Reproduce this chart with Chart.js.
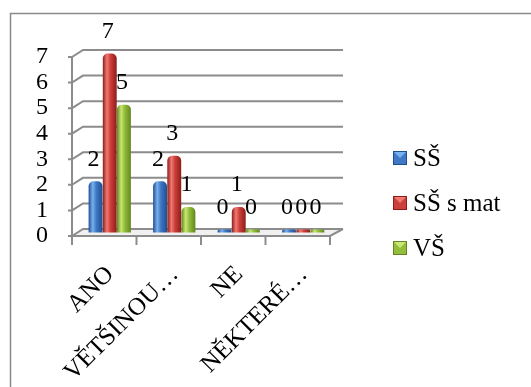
<!DOCTYPE html>
<html>
<head>
<meta charset="utf-8">
<script src="https://cdn.jsdelivr.net/npm/chart.js@4/dist/chart.umd.min.js"></script>
<style>
  html, body { margin: 0; padding: 0; background: #fff; }
  canvas { display: block; }
</style>
</head>
<body>
<canvas id="chart" width="531" height="387"></canvas>
<script>
// data
const categories = ["ANO", "VĚTŠINOU…", "NE", "NĚKTERÉ…"];
const seriesNames = ["SŠ", "SŠ s mat", "VŠ"];
const valuesSS = [2, 2, 0, 0];
const valuesSSmat = [7, 3, 1, 0];
const valuesVS = [5, 1, 0, 0];
const yMin = 0, yMax = 7, yStep = 1;

const FONT = '"Liberation Serif", "Times New Roman", serif';
const DEPTH_X = 11, DEPTH_Y = 7;   // 3D wall offset
const CAT_PCT = 0.66, BAR_PCT = 0.98;

// base / light / dark shades per series
const palettes = [
    { base: "#3f78c4", light: "#78b0f0", dark: "#1f4f90" },
    { base: "#cc3f3a", light: "#f07a72", dark: "#8c1d1a" },
    { base: "#94bd3c", light: "#c6e874", dark: "#62861e" }
];

// horizontal "cylinder" shading, worked out from the x scale
function barFill(c) {
    const chart = c.chart;
    const x = chart.scales.x;
    const p = palettes[c.datasetIndex];
    if (!x || !chart.chartArea) return p.base;
    const catW = (chart.chartArea.right - chart.chartArea.left) / categories.length;
    const slot = catW * CAT_PCT / seriesNames.length;
    const cx = x.getPixelForValue(c.dataIndex) - catW * CAT_PCT / 2 + slot * (c.datasetIndex + 0.5);
    const half = slot * BAR_PCT / 2;
    const g = chart.ctx.createLinearGradient(cx - half, 0, cx + half, 0);
    g.addColorStop(0, p.dark);
    g.addColorStop(0.3, p.light);
    g.addColorStop(0.55, p.base);
    g.addColorStop(1, p.dark);
    return g;
}

/**
 * 3D walls, floor, frame, labels, legend
 */
const wallPlugin = {
    id: "walls",
    beforeDraw(chart) {
        const ctx = chart.ctx;
        ctx.save();
        ctx.fillStyle = "#fff";
        ctx.fillRect(0, 0, chart.width, chart.height);
        ctx.strokeStyle = "#8a8a8a";
        ctx.lineWidth = 1.5;
        ctx.strokeRect(10.5, 13.5, 700, 600);
        ctx.restore();
    },
    beforeDatasetsDraw(chart) {
        const ctx = chart.ctx;
        const y = chart.scales.y;
        const left = chart.chartArea.left, right = chart.chartArea.right;
        const bottom = y.getPixelForValue(yMin);
        ctx.save();
        // floor
        ctx.fillStyle = "#f0f0f0";
        ctx.beginPath();
        ctx.moveTo(left, bottom);
        ctx.lineTo(left + DEPTH_X, bottom - DEPTH_Y);
        ctx.lineTo(right + DEPTH_X + 2, bottom - DEPTH_Y);
        ctx.lineTo(right, bottom);
        ctx.closePath();
        ctx.fill();

        ctx.strokeStyle = "#8c8c8c";
        ctx.lineWidth = 2;
        for (let v = yMin; v <= yMax; v += yStep) {
            const py = y.getPixelForValue(v);
            ctx.beginPath();
            ctx.moveTo(left - 4, py);
            ctx.lineTo(left, py);
            ctx.lineTo(left + DEPTH_X, py - DEPTH_Y);
            ctx.lineTo(right + DEPTH_X + 2, py - DEPTH_Y);
            ctx.stroke();
        }
        // front axis
        ctx.beginPath();
        ctx.moveTo(left, y.getPixelForValue(yMax));
        ctx.lineTo(left, bottom);
        ctx.lineTo(right, bottom);
        ctx.lineTo(right + DEPTH_X + 2, bottom - DEPTH_Y);
        ctx.stroke();
        // category ticks
        for (let i = 0; i <= categories.length; i++) {
            const px = left + (right - left) * i / categories.length;
            ctx.beginPath();
            ctx.moveTo(px, bottom);
            ctx.lineTo(px, bottom + 9);
            ctx.stroke();
        }
        ctx.restore();

        // bars sit half way into the depth
        ctx.save();
        ctx.translate(DEPTH_X / 2, -DEPTH_Y / 2);
    },
    afterDatasetsDraw(chart) {
        const ctx = chart.ctx;
        ctx.restore();
        // value labels
        ctx.save();
        ctx.font = "24px " + FONT;
        ctx.fillStyle = "#000";
        ctx.textAlign = "center";
        ctx.textBaseline = "middle";
        chart.data.datasets.forEach((ds, di) => {
            chart.getDatasetMeta(di).data.forEach((el, i) => {
                ctx.fillText(String(ds.data[i]), el.x + DEPTH_X / 2 - 2, el.y - DEPTH_Y / 2 - 22);
            });
        });
        ctx.restore();
    },
    afterDraw(chart) {
        // legend
        const ctx = chart.ctx;
        ctx.save();
        ctx.font = "25px " + FONT;
        ctx.textBaseline = "middle";
        chart.data.datasets.forEach((ds, di) => {
            const cy = 158 + di * 45;
            const p = palettes[di];
            const mx = 393, my = cy - 7, s = 14;
            ctx.fillStyle = p.dark;
            ctx.fillRect(mx, my, s, s);
            ctx.fillStyle = p.base;
            ctx.fillRect(mx + 1, my + 1, s - 2, s - 2);
            ctx.fillStyle = p.light;
            ctx.beginPath();
            ctx.moveTo(mx + 1, my + 1);
            ctx.lineTo(mx + s - 1, my + 1);
            ctx.lineTo(mx + s / 2, my + s / 2);
            ctx.closePath();
            ctx.fill();
            ctx.fillStyle = "#000";
            ctx.fillText(ds.label, mx + 20, cy + 1);
        });
        ctx.restore();
    }
};

const datasets = [valuesSS, valuesSSmat, valuesVS].map((vals, i) => ({
    label: seriesNames[i],
    data: vals,
    backgroundColor: barFill,
    borderRadius: { topLeft: 5, topRight: 5, bottomLeft: 0, bottomRight: 0 },
    borderSkipped: false,
    minBarLength: 3,
    categoryPercentage: CAT_PCT,
    barPercentage: BAR_PCT,
    clip: false
}));

new Chart(document.getElementById("chart"), {
    type: "bar",
    data: { labels: categories, datasets: datasets },
    options: {
        responsive: false,
        animation: false,
        events: [],
        layout: { padding: { left: 10, right: 201, top: 57, bottom: 0 } },
        plugins: { legend: { display: false }, tooltip: { enabled: false } },
        scales: {
            x: {
                grid: { display: false, drawTicks: false },
                border: { display: false },
                ticks: {
                    font: { family: FONT, size: 25 },
                    color: "#000",
                    minRotation: 45,
                    maxRotation: 45,
                    autoSkip: false,
                    padding: 24,
                    labelOffset: 6
                },
                afterFit(scale) { scale.height = 151; }
            },
            y: {
                min: yMin,
                max: yMax,
                grid: { display: false, drawTicks: false },
                border: { display: false },
                ticks: {
                    stepSize: yStep,
                    autoSkip: false,
                    font: { family: FONT, size: 24 },
                    color: "#000",
                    padding: 24
                },
                afterFit(scale) { scale.width = 62; }
            }
        }
    },
    plugins: [wallPlugin]
});
</script>
</body>
</html>
